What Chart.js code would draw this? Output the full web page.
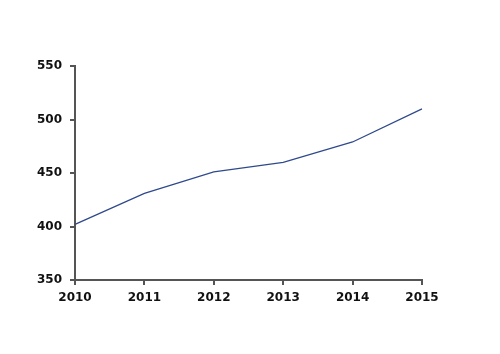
<!DOCTYPE html>
<html>
<head>
<meta charset="utf-8">
<script src="https://cdn.jsdelivr.net/npm/chart.js@4"></script>
<style>
  html, body { margin: 0; padding: 0; background: #fff; }
  #wrap { width: 500px; height: 354px; }
</style>
</head>
<body>
<div id="wrap"><canvas id="lineChart" width="500" height="354"></canvas></div>
<script>
const years = ["2010", "2011", "2012", "2013", "2014", "2015"];
const values = [402, 431, 451, 460, 479, 510];
const yTicks = [350, 400, 450, 500, 550];

const axisColor = "#555555";
const tickFont = { family: "DejaVu Sans", size: 12, weight: "bold" };

document.addEventListener("DOMContentLoaded", function () {
  const ctx = document.getElementById("lineChart").getContext("2d");

  new Chart(ctx, {
    type: "line",
    data: {
      labels: years,
      datasets: [
        {
          data: values,
          borderColor: "#2f4a8c",
          borderWidth: 1.3,
          pointRadius: 0,
          tension: 0,
          fill: false,
        },
      ],
    },
    options: {
      responsive: false,
      animation: false,
      layout: { padding: { top: 66, right: 78, left: 0, bottom: 0 } },
      plugins: {
        legend: { display: false },
        tooltip: { enabled: false },
      },
      scales: {
        x: {
          offset: false,
          grid: { drawOnChartArea: false, color: axisColor, lineWidth: 2, tickLength: 5 },
          border: { color: axisColor, width: 2 },
          ticks: { color: "#111", font: tickFont, padding: 6, maxRotation: 0 },
          afterFit: function (scale) { scale.height = 74; },
        },
        y: {
          min: 350,
          max: 550,
          afterBuildTicks: function (scale) {
            scale.ticks = yTicks.map(function (v) { return { value: v }; });
          },
          grid: { drawOnChartArea: false, color: axisColor, lineWidth: 2, tickLength: 5 },
          border: { color: axisColor, width: 2 },
          ticks: { color: "#111", font: tickFont, padding: 8 },
          afterFit: function (scale) { scale.width = 75; },
        },
      },
    },
  });
});
</script>
</body>
</html>
